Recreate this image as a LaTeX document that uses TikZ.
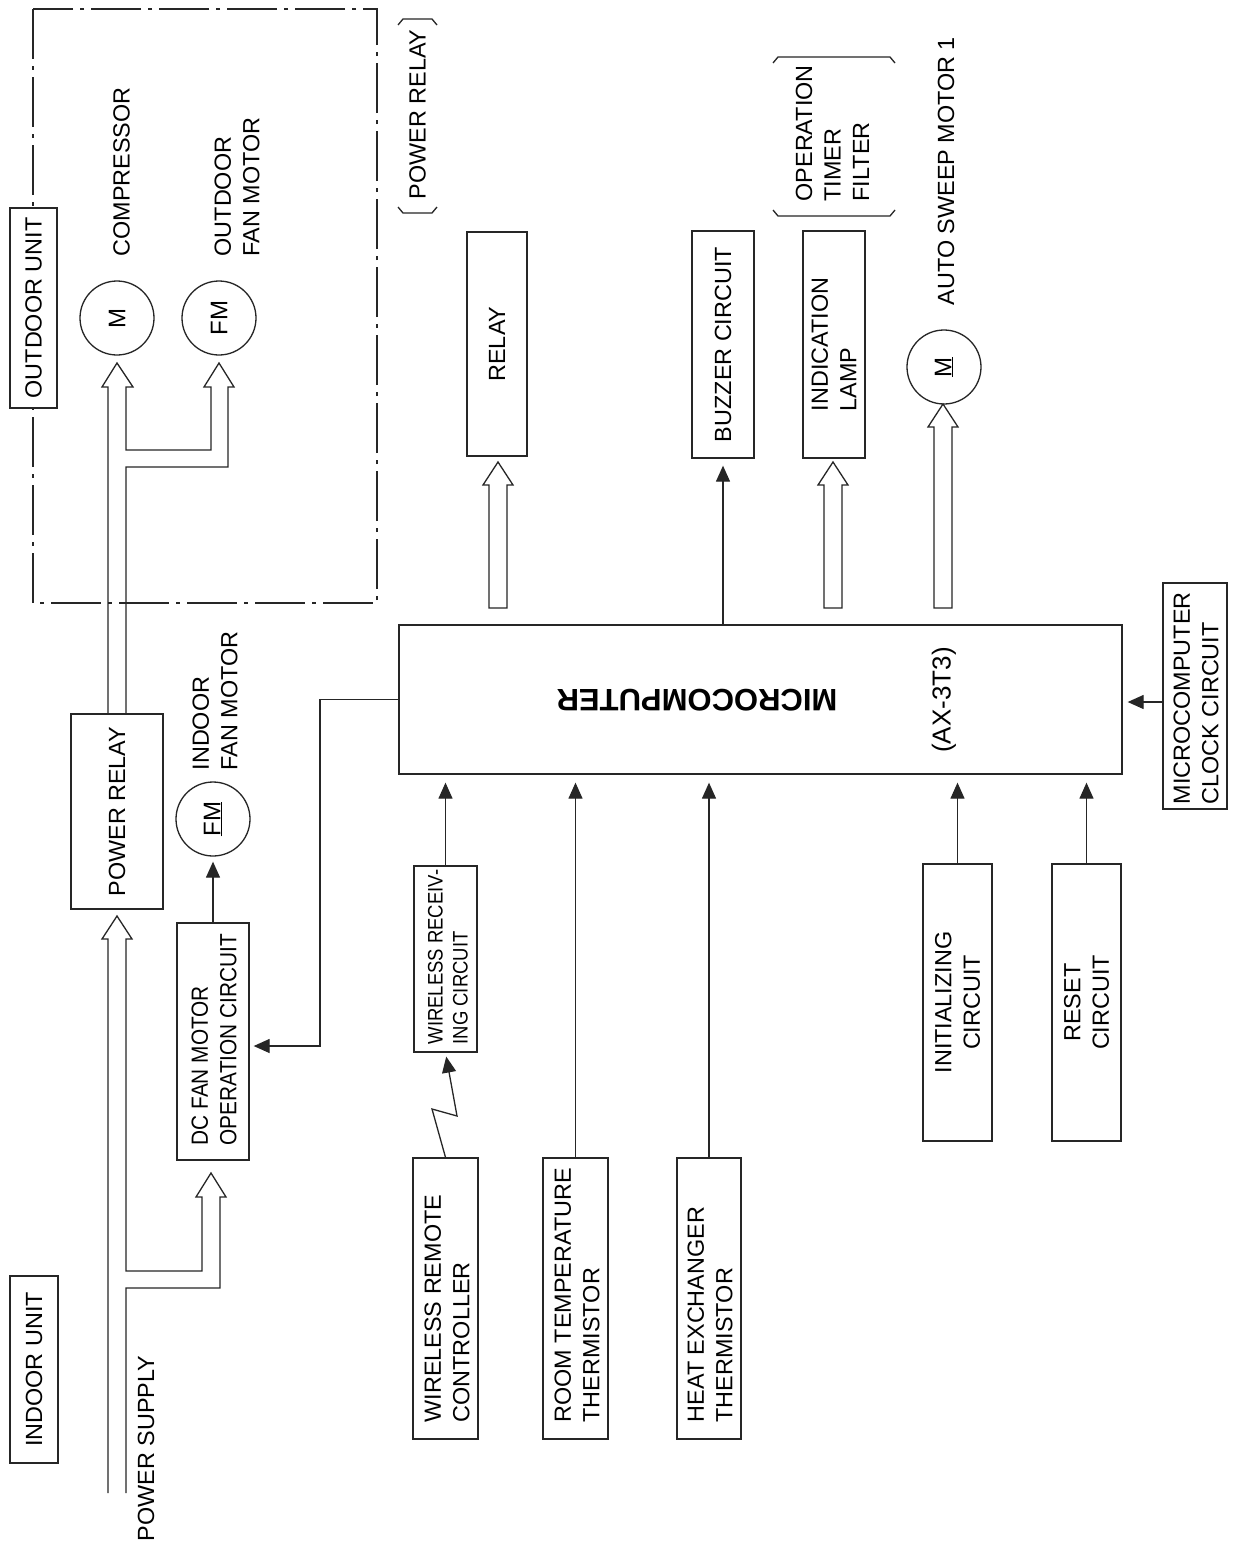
\documentclass[tikz,border=0pt]{standalone}
\usepackage{fontspec}
\setmainfont{Liberation Sans}
\newfontfamily\condfont[FakeStretch=0.89]{Liberation Sans}
\newfontfamily\narrowfont[FakeStretch=0.88]{Liberation Sans}
\usetikzlibrary{arrows.meta,fit,calc}
\newcommand\blockarrow[3]{%
  \draw[fill=white] (#1-9,#2) -- (#1-9,#3+23) -- (#1-15,#3+23) -- (#1,#3)
    -- (#1+15,#3+23) -- (#1+9,#3+23) -- (#1+9,#2) -- cycle;}
\begin{document}
\begin{tikzpicture}[x=1pt,y=-1pt,line width=1.3pt,draw=black!85,
  box/.style={draw,fill=white,inner sep=0pt},
  motor/.style={draw,circle,minimum size=74pt,inner sep=0pt},
  txt/.style={rotate=90,inner sep=0pt,text=black,font=\fontsize{23.4}{28.5}\selectfont},
  mlbl/.style={rotate=90,inner sep=0pt,text=black,font=\fontsize{24}{28}\selectfont},
  arr/.style={-{Triangle[width=14pt,length=16pt]}},
  dashdot/.style={dash pattern=on 50pt off 7pt on 4pt off 7pt}]
\fill[white] (0,0) rectangle (1236,1548);
\useasboundingbox (0,0) rectangle (1236,1548);

% outdoor unit frame
\draw[dashdot] (33,9) rectangle (377,603);

% boxes
\node[box,fit={(10,208) (57,408)}] (outdoor) {};
\node[box,fit={(10,1276) (58,1463)}] (indoor) {};
\node[box,fit={(71,714) (163,909)}] (prelay) {};
\node[box,fit={(177,923) (249,1160)}] (dcbox) {};
\node[box,fit={(399,625) (1122,774)}] (micro) {};
\node[box,fit={(467,232) (527,456)}] (relay) {};
\node[box,fit={(692,231) (754,458)}] (buzzer) {};
\node[box,fit={(803,231) (865,458)}] (lamp) {};
\node[box,fit={(414,866) (477,1052)}] (wrx) {};
\node[box,fit={(413,1158) (478,1439)}] (wrc) {};
\node[box,fit={(543,1158) (608,1439)}] (rtt) {};
\node[box,fit={(677,1158) (741,1439)}] (hxt) {};
\node[box,fit={(923,864) (992,1141)}] (init) {};
\node[box,fit={(1052,864) (1121,1141)}] (reset) {};
\node[box,fit={(1163,583) (1227,809)}] (clock) {};

% motors
\node[motor] (mcomp) at (117,318) {};
\node[motor] (mfan) at (219,318) {};
\node[motor] (ifan) at (213,819) {};
\node[motor] (msweep) at (944,367) {};
\node[mlbl] at (mcomp) {M};
\node[mlbl] at (mfan) {FM};
\node[mlbl] at (ifan) {\underline{FM}};
\node[mlbl] at (msweep) {\underline{M}};

% double-line power arrows
\draw (108,714) -- (108,387) -- (102,387) -- (117,363) -- (133,387) -- (126,387)
  -- (126,450) -- (211,450) -- (211,387) -- (204,387) -- (219,363) -- (234,387)
  -- (228,387) -- (228,467) -- (126,467) -- (126,714);
\draw (108,1493) -- (108,939) -- (102,939) -- (117,916) -- (132,939) -- (126,939)
  -- (126,1271) -- (202,1271) -- (202,1197) -- (196,1197) -- (211,1173) -- (226,1197)
  -- (220,1197) -- (220,1288) -- (126,1288) -- (126,1493);

% hollow output arrows
\blockarrow{498}{608}{462}
\blockarrow{833}{608}{462}
\blockarrow{943}{608}{404}

% signal connectors
\draw[arr,shorten >=5pt] (dcbox.north) -- (ifan.south);
\draw[arr,shorten >=4pt] (micro.west) -- (320,699.5) -- (320,1046) -- ($(dcbox.east)+(0,4.5)$);
\draw[arr,shorten >=7pt] (buzzer.south |- micro.north) -- (buzzer.south);
\draw[arr,shorten >=8pt] (wrx.north) -- (wrx.north |- micro.south);
\draw[arr,shorten >=8pt] (rtt.north) -- (rtt.north |- micro.south);
\draw[arr,shorten >=8pt] (hxt.north) -- (hxt.north |- micro.south);
\draw[arr,shorten >=8pt] (init.north) -- (init.north |- micro.south);
\draw[arr,shorten >=8pt] (reset.north) -- (reset.north |- micro.south);
\draw[arr,shorten >=5pt] ($(clock.west)+(0,6)$) -- ($(clock.west -| micro.east)+(0,6)$);
\draw[arr,shorten >=4pt] (wrc.north) -- (432,1109) -- (457,1116) -- (wrx.south);

% brackets
\draw (398,25) -- (403,19) -- (432,19) -- (437,25);
\draw (398,207) -- (403,213) -- (432,213) -- (437,207);
\draw (773,63) -- (778,57) -- (890,57) -- (895,63);
\draw (773,210) -- (778,216) -- (890,216) -- (895,210);

% texts
\node[txt] at (outdoor) {OUTDOOR UNIT};
\node[txt] at (indoor) {INDOOR UNIT};
\node[txt] at (prelay) {POWER RELAY};
\node[txt,anchor=west] at (121.5,257) {COMPRESSOR};
\node[txt,anchor=west,align=left] at (237,257) {OUTDOOR\\FAN MOTOR};
\node[txt,anchor=west,align=left] at (215,771) {INDOOR\\FAN MOTOR};
\node[txt,anchor=west,align=left,font=\condfont\fontsize{23.4}{28.5}\selectfont] at (214,1146) {DC FAN MOTOR\\OPERATION CIRCUIT};
\node[txt,anchor=west] at (146,1542) {POWER SUPPLY};
\node[txt,anchor=west] at (417.5,200) {POWER RELAY};
\node[txt] at (relay) {RELAY};
\node[txt] at (buzzer) {BUZZER CIRCUIT};
\node[txt,align=left] at (lamp) {INDICATION\\LAMP};
\node[txt,anchor=west,align=left] at (832.5,202) {OPERATION\\TIMER\\FILTER};
\node[txt,anchor=west] at (946,306) {AUTO SWEEP MOTOR 1};
\node[rotate=180,inner sep=0pt,font=\fontsize{31}{36}\selectfont\bfseries] at (697,700) {MICROCOMPUTER};
\node[rotate=90,inner sep=0pt,font=\fontsize{26}{30}\selectfont] at (944,700) {(AX-3T3)};
\node[txt,anchor=west,align=left,font=\narrowfont\fontsize{21}{25}\selectfont] at (448,1045) {WIRELESS RECEIV-\\ING CIRCUIT};
\node[txt,anchor=west,align=left] at (447,1423) {WIRELESS REMOTE\\CONTROLLER};
\node[txt,anchor=west,align=left] at (577,1423) {ROOM TEMPERATURE\\THERMISTOR};
\node[txt,anchor=west,align=left] at (710,1423) {HEAT EXCHANGER\\THERMISTOR};
\node[txt,align=center] at (init) {INITIALIZING\\CIRCUIT};
\node[txt,align=center] at (reset) {RESET\\CIRCUIT};
\node[txt,anchor=west,align=left] at (1196,805) {MICROCOMPUTER\\CLOCK CIRCUIT};
\end{tikzpicture}
\end{document}
